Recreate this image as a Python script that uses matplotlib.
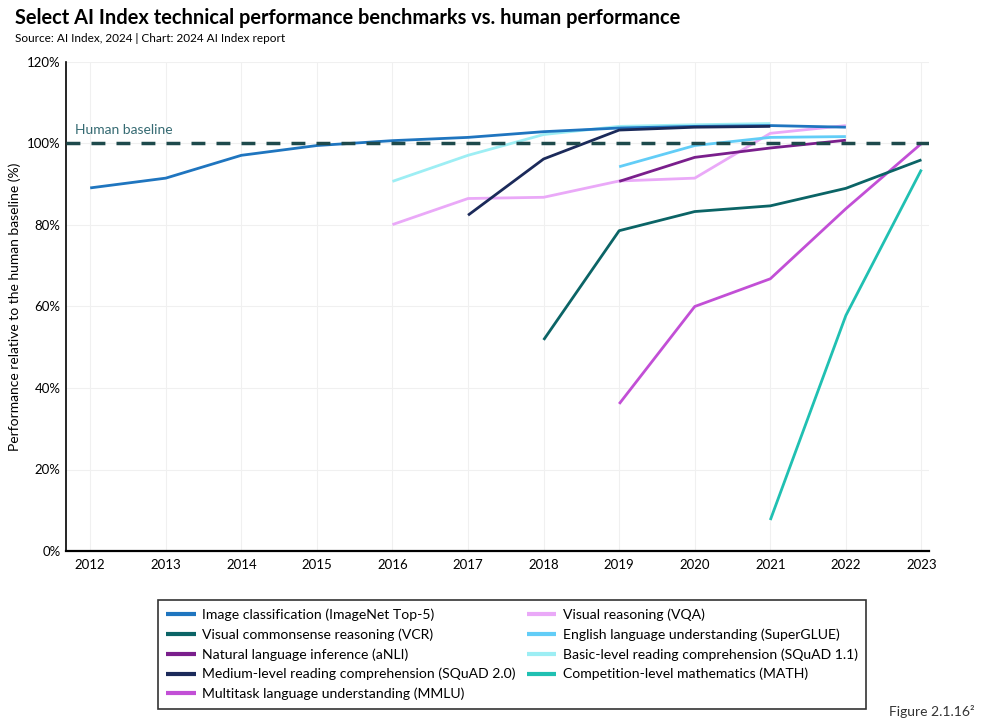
import matplotlib
matplotlib.use("Agg")
import matplotlib.pyplot as plt
import numpy as np

plt.rcParams['font.family'] = ['Lato', 'DejaVu Sans']

# series values (% of human baseline), one list per benchmark
yrs_imagenet = [2012, 2013, 2014, 2015, 2016, 2017, 2018, 2019, 2020, 2021, 2022]
imagenet = [89.1, 91.5, 97.1, 99.5, 100.7, 101.5, 102.9, 103.8, 104.2, 104.4, 104.0]

yrs_vcr = [2018, 2019, 2020, 2021, 2022, 2023]
vcr = [51.8, 78.6, 83.3, 84.7, 89.0, 96.0]

yrs_anli = [2019, 2020, 2021, 2022]
anli = [90.7, 96.6, 98.9, 100.8]

yrs_squad2 = [2017, 2018, 2019, 2020, 2021]
squad2 = [82.4, 96.2, 103.3, 104.0, 104.2]

yrs_mmlu = [2019, 2020, 2021, 2022, 2023]
mmlu = [36.1, 60.0, 66.8, 84.0, 100.0]

yrs_vqa = [2016, 2017, 2018, 2019, 2020, 2021, 2022]
vqa = [80.1, 86.5, 86.8, 90.8, 91.5, 102.5, 104.4]

yrs_superglue = [2019, 2020, 2021, 2022]
superglue = [94.3, 99.5, 101.5, 101.7]

yrs_squad1 = [2016, 2017, 2018, 2019, 2020, 2021]
squad1 = [90.7, 97.1, 102.2, 104.2, 104.6, 104.9]

yrs_math = [2021, 2022, 2023]
math_ = [7.6, 57.8, 93.6]

names = ["Image classification (ImageNet Top-5)",
         "Visual commonsense reasoning (VCR)",
         "Natural language inference (aNLI)",
         "Medium-level reading comprehension (SQuAD 2.0)",
         "Multitask language understanding (MMLU)",
         "Visual reasoning (VQA)",
         "English language understanding (SuperGLUE)",
         "Basic-level reading comprehension (SQuAD 1.1)",
         "Competition-level mathematics (MATH)"]

series = [(yrs_imagenet, imagenet), (yrs_vcr, vcr), (yrs_anli, anli),
          (yrs_squad2, squad2), (yrs_mmlu, mmlu), (yrs_vqa, vqa),
          (yrs_superglue, superglue), (yrs_squad1, squad1), (yrs_math, math_)]

colors = ["#1f75bf", "#0b6466", "#7a1f8c", "#1b2a5a", "#c24fd6",
          "#eaa9f8", "#62cdf7", "#9deef4", "#20c0b2"]
# draw order so the light lines sit under the dark ones like the original
zorders = [5, 4, 4, 6, 3, 2, 3, 4, 3]

fig = plt.figure(figsize=(9.84, 7.2), dpi=100)
ax = fig.add_axes([66/984, 1-551/720, 863/984, 489/720])

for (x, y), nm, c, z in zip(series, names, colors, zorders):
    ax.plot(x, y, color=c, lw=2, label=nm, zorder=z, solid_capstyle='butt')

ax.axhline(100, color="#1e4a4c", lw=2.5, ls=(0, (4, 3.2)), zorder=7)
ax.text(2011.8, 101.8, "Human baseline", color="#356a72", fontsize=10, va='bottom', ha='left')

ax.set_xlim(2011.68, 2023.1)
ax.set_ylim(0, 120)
ax.set_xticks(range(2012, 2024))
ax.set_yticks(range(0, 121, 20))
ax.set_yticklabels([f"{v}%" for v in range(0, 121, 20)])
ax.tick_params(length=0, labelsize=9.5, pad=4)
ax.tick_params(axis='x', pad=6)
ax.grid(True, color="#f0f0f0", lw=0.8)
ax.set_axisbelow(True)
for s in ['top', 'right']:
    ax.spines[s].set_visible(False)
ax.spines['left'].set_linewidth(1.2)
ax.spines['bottom'].set_linewidth(1.6)
ax.set_ylabel("Performance relative to the human baseline (%)", fontsize=10, labelpad=4)

fig.text(15/984, 1-18/720, "Select AI Index technical performance benchmarks vs. human performance",
         fontsize=14.4, fontweight='bold', va='center', ha='left')
fig.text(15/984, 1-38/720, "Source: AI Index, 2024 | Chart: 2024 AI Index report",
         fontsize=8.5, va='center', ha='left')
fig.text(975/984, 1-711/720, "Figure 2.1.16\u00b2", fontsize=10, va='center', ha='right', color="#333333")

leg = fig.legend(loc='upper left', bbox_to_anchor=(158/984, 1-600/720), ncol=2,
                 fontsize=10.1, frameon=True, fancybox=False, edgecolor='black',
                 handlelength=2.1, handletextpad=0.45, columnspacing=0.8,
                 labelspacing=0.52, borderpad=0.6, borderaxespad=0)
leg.get_frame().set_linewidth(1.2)
for h in leg.get_lines():
    h.set_linewidth(3)

fig.savefig("out.png", dpi=100)
